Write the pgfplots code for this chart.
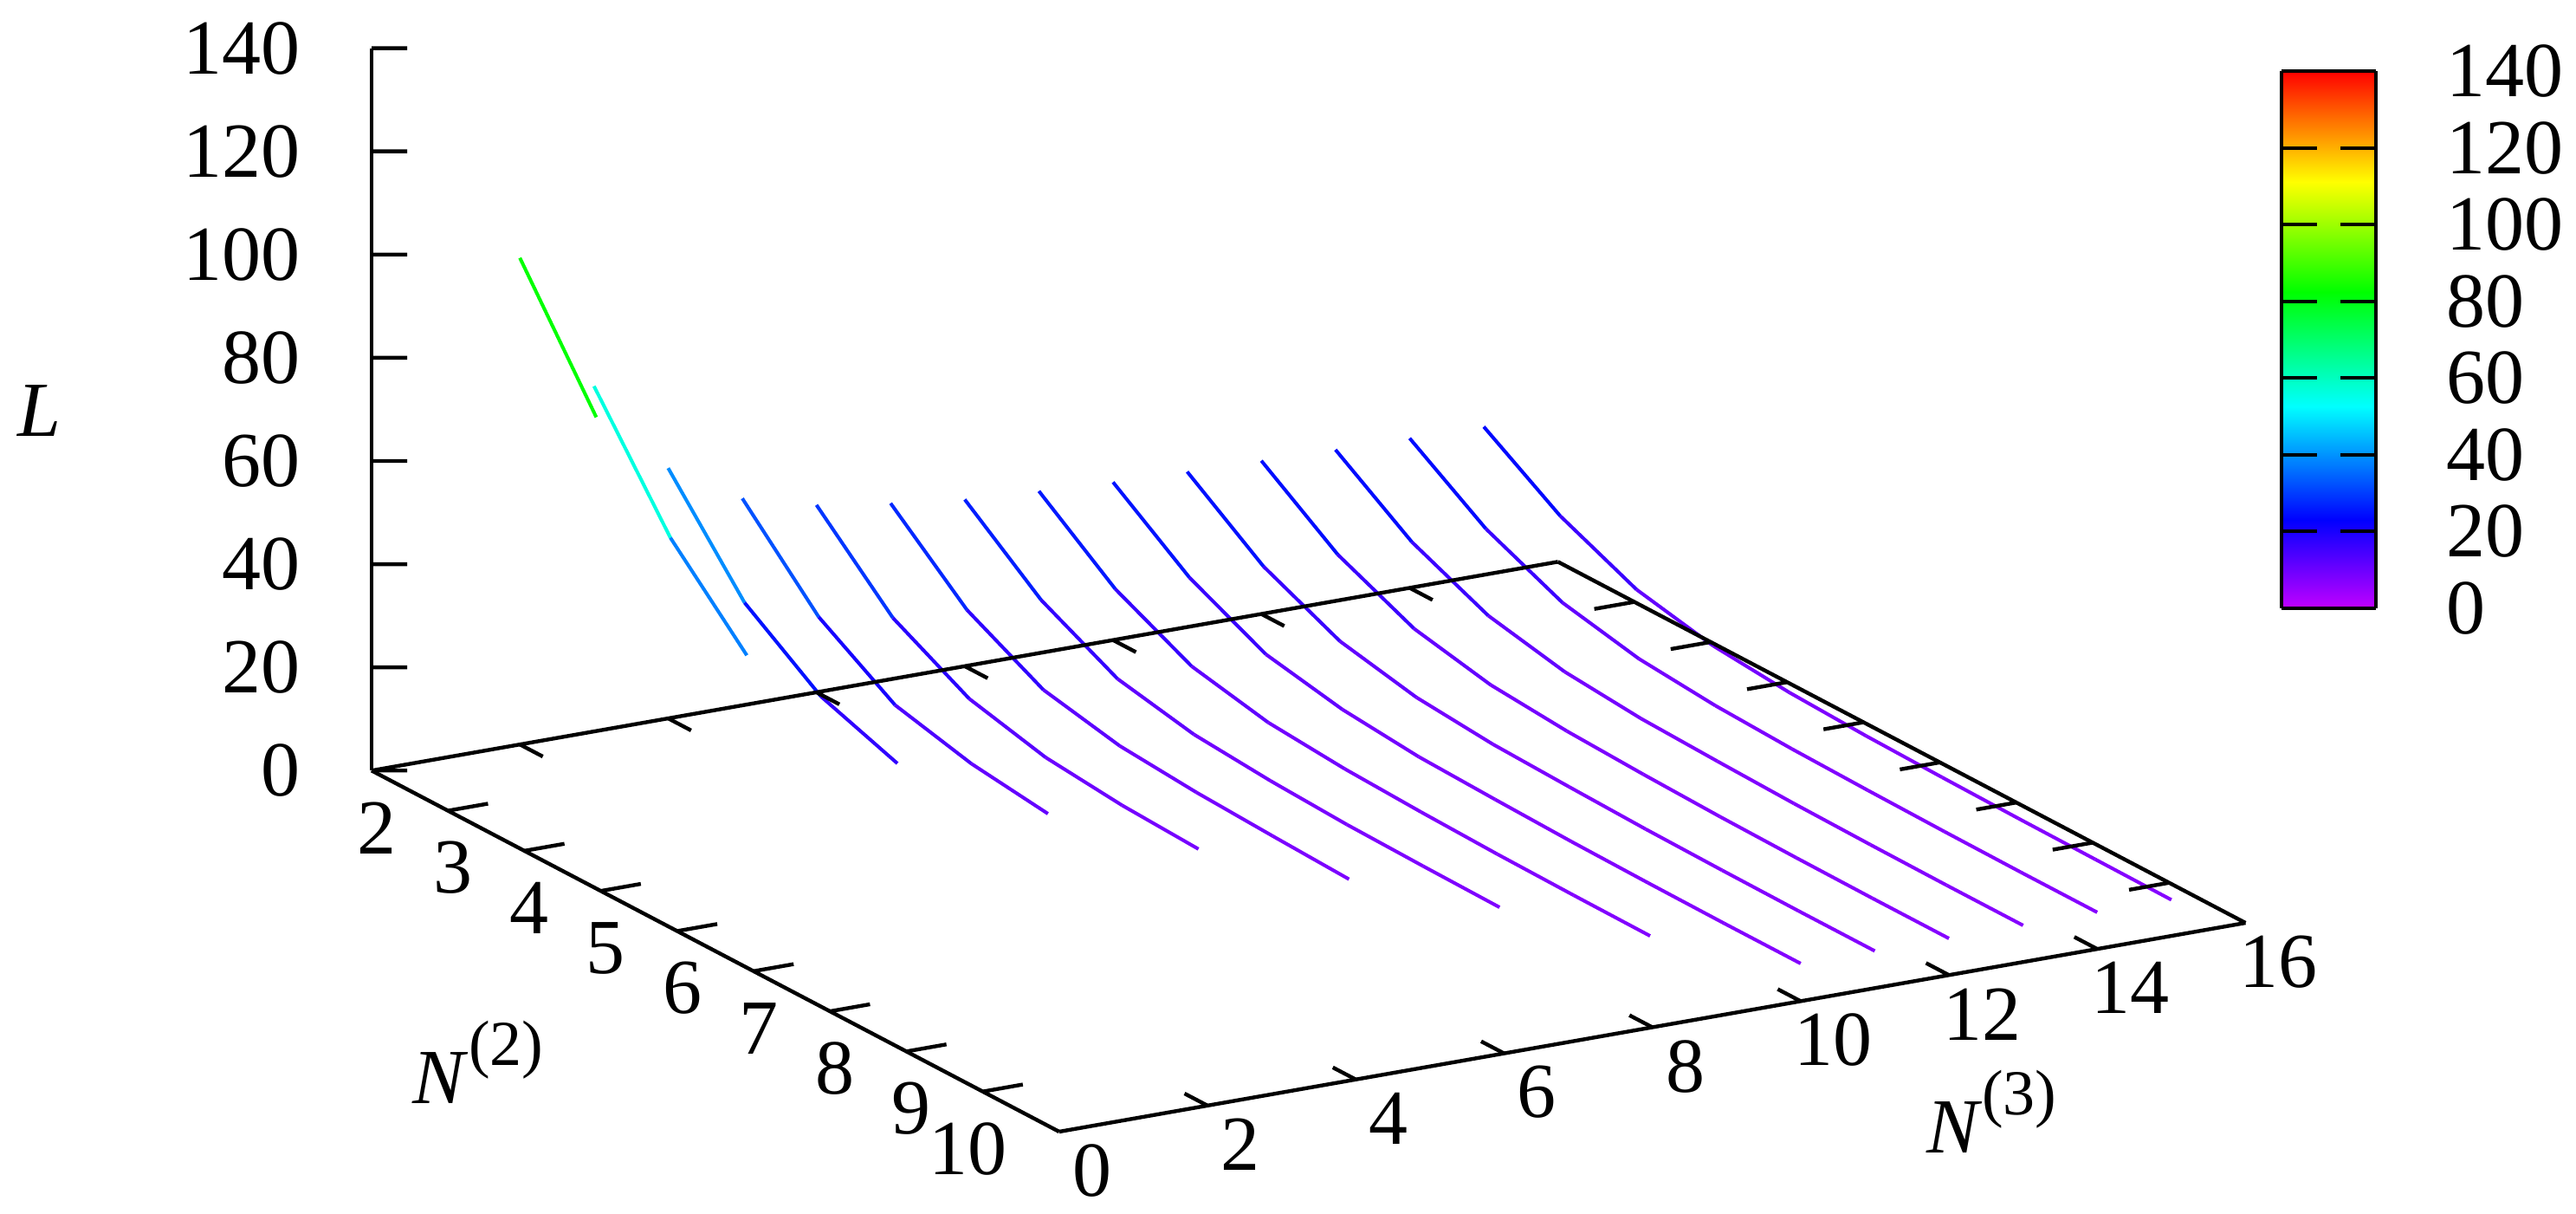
\documentclass[border=0pt]{standalone}
\usepackage{fontspec}
\setmainfont{Liberation Serif}
\usepackage{pgfplots}
\pgfplotsset{compat=1.18}
\newcommand{\Nlab}[1]{\textit{N}\raisebox{11pt}{\fontsize{18.5pt}{18.5pt}\selectfont(#1)}}
\pgfplotsset{colormap={cb}{rgb255(0cm)=(192,0,255) rgb255(2.3cm)=(0,0,255) rgb255(5.25cm)=(0,255,255) rgb255(8.25cm)=(0,255,0) rgb255(11.1cm)=(255,255,0) rgb255(14cm)=(255,0,0)}}
\begin{document}
\begin{tikzpicture}
\path[use as bounding box] (0,0) rectangle (743.5pt,350.25pt);
\begin{axis}[
  at={(107.25pt,23.75pt)}, anchor=south west, clip=false,
  x={(21.4pt,3.765pt)}, y={(22.05pt,-11.575pt)}, z={(0pt,1.48875pt)},
  xmin=0,xmax=16,ymin=2,ymax=11,zmin=0,zmax=140,
  xtick={0,2,...,16}, ytick={2,3,...,10}, ztick={0,20,...,140},
  axis line style={draw=none}, tick style={draw=none},
  major tick length=0pt,
  font=\fontsize{22.5pt}{26pt}\selectfont,
  /pgf/number format/assume math mode=true,
  xticklabel style={anchor=center,xshift=9.5pt,yshift=-11.25pt},
  yticklabel style={anchor=east,inner sep=0pt,xshift=7.25pt,yshift=-16.5pt},
  zticklabel style={anchor=east,inner sep=0pt,xshift=-20.5pt},
  xlabel={\Nlab{3}}, ylabel={\Nlab{2}}, zlabel={\textit{L}},
  xlabel style={at={(rel axis cs:.786,1,0)},anchor=center,yshift=-41.5pt},
  ylabel style={at={(rel axis cs:0,.155,0)},anchor=center,yshift=-68pt},
  zlabel style={at={(rel axis cs:0,0,.498)},anchor=center,yshift=95.9pt,rotate=-90},
  colormap name=cb,
  point meta min=0, point meta max=140,
]
\pgfplotsset{cline/.style={mesh,shader=flat,point meta=z,line width=1pt,no marks}}
\addplot3[cline] coordinates {(2,2,94.3)(2,3,71.2)};
\addplot3[cline] coordinates {(3,2,66.9)(3,3,45.3)(3,4,30.3)};
\addplot3[cline] coordinates {(4,2,48.5)(4,3,30.2)(4,4,19.8)(4,5,14.6)};
\addplot3[cline] coordinates {(5,2,40.1)(5,3,24.9)(5,4,15.6)(5,5,12.0)(5,6,10.1)};
\addplot3[cline] coordinates {(6,2,36.3)(6,3,22.2)(6,4,14.3)(6,5,10.7)(6,6,9.2)(6,7,8.5)};
\addplot3[cline] coordinates {(7,2,34.1)(7,3,21.2)(7,4,13.5)(7,5,10.4)(7,6,9.2)(7,7,8.5)(7,8,7.9)};
\addplot3[cline] coordinates {(8,2,32.3)(8,3,20.6)(8,4,13.1)(8,5,10.1)(8,6,8.9)(8,7,8.2)(8,8,7.9)(8,9,7.7)};
\addplot3[cline] coordinates {(9,2,31.4)(9,3,20.2)(9,4,13.0)(9,5,9.9)(9,6,8.7)(9,7,8.1)(9,8,7.7)(9,9,7.5)(9,10,7.4)};
\addplot3[cline] coordinates {(10,2,30.6)(10,3,19.9)(10,4,12.8)(10,5,9.9)(10,6,8.5)(10,7,8.0)(10,8,7.6)(10,9,7.4)(10,10,7.3)(10,11,7.3)};
\addplot3[cline] coordinates {(11,2,30.1)(11,3,19.5)(11,4,12.8)(11,5,9.7)(11,6,8.4)(11,7,7.9)(11,8,7.5)(11,9,7.3)(11,10,7.2)(11,11,7.2)};
\addplot3[cline] coordinates {(12,2,29.7)(12,3,19.3)(12,4,12.7)(12,5,9.6)(12,6,8.4)(12,7,7.8)(12,8,7.4)(12,9,7.2)(12,10,7.1)(12,11,7.1)};
\addplot3[cline] coordinates {(13,2,29.3)(13,3,19.2)(13,4,12.7)(13,5,9.6)(13,6,8.3)(13,7,7.8)(13,8,7.4)(13,9,7.2)(13,10,7.1)(13,11,7.1)};
\addplot3[cline] coordinates {(14,2,29.0)(14,3,19.2)(14,4,12.7)(14,5,9.6)(14,6,8.3)(14,7,7.7)(14,8,7.4)(14,9,7.2)(14,10,7.1)(14,11,7.1)};
\addplot3[cline] coordinates {(15,2,28.7)(15,3,19.2)(15,4,12.7)(15,5,9.6)(15,6,8.3)(15,7,7.7)(15,8,7.4)(15,9,7.2)(15,10,7.1)(15,11,7.0)};
\pgfplotsset{frm/.style={black,line width=1.1pt,no marks,forget plot}}
\addplot3[frm] coordinates {(0,2,140)(0,2,0)};
\addplot3[frm] coordinates {(0,2,0)(16,2,0)};
\addplot3[frm] coordinates {(16,2,0)(16,11,0)};
\addplot3[frm] coordinates {(16,11,0)(0,11,0)};
\addplot3[frm] coordinates {(0,11,0)(0,2,0)};
\pgfplotsinvokeforeach{2,4,...,14}{
  \addplot3[frm] coordinates {(#1,11,0)(#1,10.7,0)};
  \addplot3[frm] coordinates {(#1,2,0)(#1,2.3,0)};
}
\pgfplotsinvokeforeach{3,4,...,10}{
  \addplot3[frm] coordinates {(0,#1,0)(0.54,#1,0)};
  \addplot3[frm] coordinates {(16,#1,0)(15.46,#1,0)};
}
\addplot3[frm] coordinates {(0,2,0)(0.479,2,-1.21)};
\addplot3[frm] coordinates {(0,2,20)(0.479,2,18.79)};
\addplot3[frm] coordinates {(0,2,40)(0.479,2,38.79)};
\addplot3[frm] coordinates {(0,2,60)(0.479,2,58.79)};
\addplot3[frm] coordinates {(0,2,80)(0.479,2,78.79)};
\addplot3[frm] coordinates {(0,2,100)(0.479,2,98.79)};
\addplot3[frm] coordinates {(0,2,120)(0.479,2,118.79)};
\addplot3[frm] coordinates {(0,2,140)(0.479,2,138.79)};
\end{axis}
\begin{axis}[
  at={(658.5pt,174.75pt)}, anchor=south west,
  scale only axis, width=27.25pt, height=155pt,
  view={0}{90},
  xmin=0,xmax=1,ymin=0,ymax=140,
  xtick=\empty, ytick={0,20,...,140},
  ytick pos=both, yticklabel pos=right,
  tick align=inside, major tick length=10.25pt,
  tick style={black,line width=1pt},
  axis line style={black,line width=1pt},
  axis on top,
  font=\fontsize{22.5pt}{26pt}\selectfont,
  /pgf/number format/assume math mode=true,
  yticklabel style={anchor=west,inner sep=0pt,xshift=20.25pt},
  colormap name=cb, point meta min=0, point meta max=140,
]
\addplot3[surf,shader=interp,point meta=y] coordinates {
(0,0,0)(1,0,0)

(0,23,0)(1,23,0)

(0,52.5,0)(1,52.5,0)

(0,82.5,0)(1,82.5,0)

(0,111,0)(1,111,0)

(0,140,0)(1,140,0)
};
\end{axis}
\end{tikzpicture}
\end{document}
